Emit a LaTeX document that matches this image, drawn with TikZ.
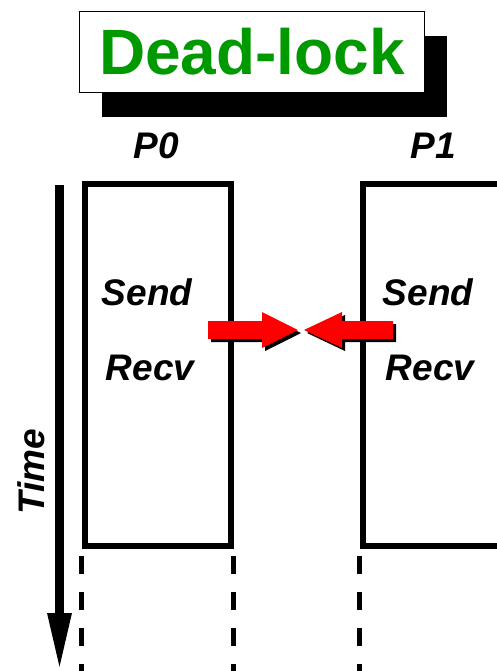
\documentclass[tikz,border=0pt]{standalone}
\usepackage{fontspec}
\setmainfont{Liberation Sans}
\usetikzlibrary{arrows.meta,shadows}
\definecolor{titlegreen}{RGB}{0,153,0}
\tikzset{
  titlebox/.style={draw, line width=1.5pt, fill=white, minimum width=345pt, minimum height=81pt,
    inner sep=0pt, text=titlegreen, font=\fontsize{64}{64}\selectfont\bfseries,
    drop shadow={shadow xshift=22pt, shadow yshift=-25pt, opacity=1, fill=black}},
  proclabel/.style={font=\fontsize{37}{37}\selectfont\bfseries\itshape, inner sep=0pt},
  procbox/.style={draw, line width=6pt, minimum width=146pt, minimum height=362pt, inner sep=0pt},
  lifeline/.style={line width=5.5pt, dash pattern=on 18pt off 18pt},
  blockarrow/.style={fill=red},
  arrowshadow/.style={fill=black}
}
\begin{document}
\begin{tikzpicture}[x=1pt,y=-1pt]
\clip (0,0) rectangle (497,671);
\fill[white] (0,0) rectangle (497,671);

\node[titlebox] (title) at (252,52) {Dead-lock};

\node[proclabel] (p0) at (156,146) {P0};
\node[proclabel] (p1) at (433,146) {P1};

\node[procbox] (box0) at (157.5,365) {};
\node[procbox] (box1) at (435.5,365) {};

\node[proclabel] (send0) at (147,292) {Send};
\node[proclabel] (recv0) at (150,368) {Recv};
\node[proclabel] (send1) at (428,292) {Send};
\node[proclabel] (recv1) at (430,368) {Recv};

% life lines below the boxes
\draw[lifeline] ([yshift=-7pt]box0.south west) -- +(0,120);
\draw[lifeline] ([yshift=-7pt]box0.south east) -- +(0,120);
\draw[lifeline] ([yshift=-7pt]box1.south west) -- +(0,120);

% time axis
\coordinate (t0) at (59.5,185);
\coordinate (t1) at (59.5,671);
\draw[line width=9pt, -{Triangle[width=22pt,length=58pt]}] (t0) -- (t1);
\node[proclabel, rotate=90] (time) at (31,472) {Time};

% blocked messages
\foreach \dx/\col in {3/arrowshadow, 0/blockarrow} {
  \fill[\col, shift={(\dx,\dx)}] (208,321) -- (262,321) -- (262,312) -- (298,330)
    -- (262,348) -- (262,339) -- (208,339) -- cycle;
  \fill[\col, shift={(\dx,\dx)}] (393,321) -- (342,321) -- (342,312) -- (304,330)
    -- (342,348) -- (342,339) -- (393,339) -- cycle;
}
\end{tikzpicture}
\end{document}
